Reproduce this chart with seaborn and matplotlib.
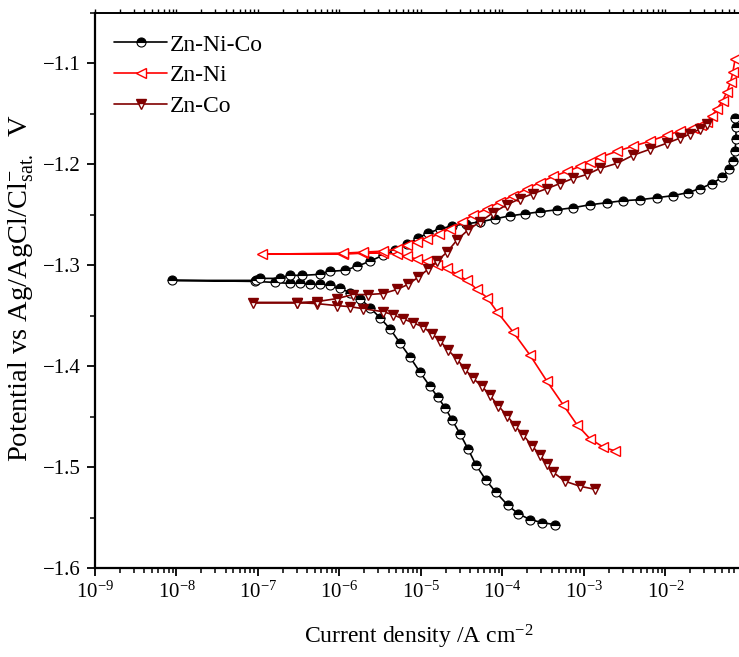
import numpy as np
import pandas as pd
import matplotlib
matplotlib.use('Agg')
import matplotlib.pyplot as plt
import matplotlib.ticker as mticker
import seaborn as sns

# Tafel curves
# current density stored as log10(i / A cm-2), potential in V vs Ag/AgCl
# each curve: cathodic branch (from its far end in to Ecorr), then anodic branch

# Zn-Ni-Co
znnico_cath_logi = [-3.356, -3.515, -3.663, -3.810, -3.933, -4.080, -4.202, -4.325, -4.423, -4.521,
                    -4.620, -4.706, -4.791, -4.890, -5.012, -5.135, -5.258, -5.380, -5.503, -5.626,
                    -5.748, -5.871, -5.994, -6.117, -6.239, -6.362, -6.485, -6.607, -6.791, -7.037, -8.055]
znnico_cath_E = [-1.557, -1.555, -1.552, -1.546, -1.538, -1.525, -1.513, -1.498, -1.482, -1.467,
                 -1.453, -1.441, -1.431, -1.420, -1.406, -1.391, -1.377, -1.363, -1.352, -1.342,
                 -1.333, -1.327, -1.323, -1.320, -1.319, -1.319, -1.318, -1.318, -1.317, -1.316, -1.315]
znnico_anod_logi = [-7.025, -6.975, -6.730, -6.607, -6.460, -6.239, -6.117, -5.933, -5.785, -5.626,
                    -5.466, -5.319, -5.172, -5.037, -4.914, -4.767, -4.620, -4.448, -4.276, -4.092,
                    -3.908, -3.724, -3.540, -3.331, -3.135, -2.926, -2.718, -2.521, -2.313, -2.104,
                    -1.908, -1.724, -1.577, -1.429, -1.307, -1.221, -1.172, -1.147, -1.135, -1.135, -1.147]
znnico_anod_E = [-1.315, -1.313, -1.313, -1.310, -1.310, -1.309, -1.306, -1.305, -1.301, -1.296,
                 -1.290, -1.285, -1.279, -1.273, -1.268, -1.264, -1.261, -1.259, -1.257, -1.254,
                 -1.251, -1.249, -1.247, -1.245, -1.243, -1.240, -1.238, -1.236, -1.235, -1.233,
                 -1.231, -1.228, -1.224, -1.219, -1.213, -1.205, -1.197, -1.187, -1.175, -1.163, -1.154]

# Zn-Ni
znni_cath_logi = [-2.620, -2.767, -2.926, -3.086, -3.258, -3.454, -3.663, -3.871, -4.067, -4.190,
                  -4.313, -4.436, -4.558, -4.681, -4.804, -4.926, -5.049, -5.172, -5.294, -5.466,
                  -5.712, -5.957, -6.951]
znni_cath_E = [-1.484, -1.480, -1.472, -1.458, -1.438, -1.415, -1.389, -1.366, -1.346, -1.332,
               -1.324, -1.315, -1.309, -1.303, -1.300, -1.296, -1.294, -1.291, -1.289, -1.288,
               -1.288, -1.289, -1.289]
znni_anod_logi = [-5.957, -5.712, -5.466, -5.294, -5.172, -5.049, -4.926, -4.785, -4.644, -4.497,
                  -4.362, -4.190, -4.031, -3.871, -3.699, -3.540, -3.380, -3.209, -3.049, -2.926,
                  -2.804, -2.595, -2.399, -2.190, -1.982, -1.822, -1.663, -1.560, -1.491, -1.430,
                  -1.368, -1.300, -1.245, -1.200, -1.172, -1.147]
znni_anod_E = [-1.288, -1.287, -1.286, -1.284, -1.280, -1.277, -1.274, -1.269, -1.264, -1.257,
               -1.250, -1.244, -1.237, -1.231, -1.224, -1.218, -1.212, -1.207, -1.202, -1.198,
               -1.193, -1.187, -1.182, -1.177, -1.171, -1.167, -1.164, -1.161, -1.158, -1.152,
               -1.145, -1.137, -1.128, -1.118, -1.108, -1.096]

# Zn-Co
znco_cath_logi = [-2.865, -3.049, -3.233, -3.380, -3.454, -3.540, -3.638, -3.748, -3.847, -3.945,
                  -4.055, -4.153, -4.252, -4.362, -4.460, -4.558, -4.669, -4.767, -4.865, -4.975,
                  -5.098, -5.221, -5.344, -5.466, -5.712, -5.871, -6.031, -6.276, -6.521, -7.061]
znco_cath_E = [-1.522, -1.519, -1.514, -1.505, -1.497, -1.488, -1.479, -1.468, -1.459, -1.449,
               -1.439, -1.429, -1.420, -1.412, -1.403, -1.393, -1.384, -1.375, -1.368, -1.361,
               -1.357, -1.353, -1.349, -1.346, -1.343, -1.341, -1.340, -1.338, -1.337, -1.337]
znco_anod_logi = [-6.521, -6.276, -6.031, -5.834, -5.650, -5.466, -5.294, -5.160, -5.037, -4.914,
                  -4.804, -4.681, -4.558, -4.423, -4.276, -4.117, -3.945, -3.785, -3.626, -3.454,
                  -3.294, -3.135, -2.963, -2.804, -2.595, -2.399, -2.190, -1.982, -1.822, -1.699,
                  -1.577, -1.491]
znco_anod_E = [-1.337, -1.336, -1.333, -1.329, -1.329, -1.328, -1.324, -1.319, -1.312, -1.304,
               -1.296, -1.287, -1.275, -1.265, -1.257, -1.248, -1.240, -1.234, -1.229, -1.224,
               -1.219, -1.214, -1.210, -1.204, -1.199, -1.191, -1.185, -1.179, -1.174, -1.170,
               -1.165, -1.160]


def make_curve(cath_logi, cath_E, anod_logi, anod_E):
    logi = np.array(cath_logi + anod_logi)
    return pd.DataFrame({'i': 10.0 ** logi, 'E': cath_E + anod_E})


df_nico = make_curve(znnico_cath_logi, znnico_cath_E, znnico_anod_logi, znnico_anod_E)
df_ni = make_curve(znni_cath_logi, znni_cath_E, znni_anod_logi, znni_anod_E)
df_co = make_curve(znco_cath_logi, znco_cath_E, znco_anod_logi, znco_anod_E)

# Style
sns.set_theme(style='ticks')
plt.rcParams['font.family'] = ['Liberation Serif', 'DejaVu Serif']
plt.rcParams['mathtext.fontset'] = 'custom'
plt.rcParams['mathtext.rm'] = 'Liberation Serif'
plt.rcParams['mathtext.it'] = 'Liberation Serif:italic'
plt.rcParams['mathtext.bf'] = 'Liberation Serif:bold'
plt.rcParams['mathtext.default'] = 'regular'
for key in ['text.color', 'axes.labelcolor', 'xtick.color', 'ytick.color', 'axes.edgecolor']:
    plt.rcParams[key] = 'black'

fig = plt.figure(figsize=(7.39, 6.57), dpi=100)
ax = fig.add_axes([95 / 739, 89 / 657, 644 / 739, 555 / 657])
ax.set_xscale('log')

sns.lineplot(data=df_nico, x='i', y='E', ax=ax, sort=False, estimator=None,
             color='black', linewidth=1.2, marker='o', markersize=6.5,
             fillstyle='top', markerfacecolor='black', markerfacecoloralt='white',
             markeredgecolor='black', markeredgewidth=0.8, label='Zn-Ni-Co')
sns.lineplot(data=df_ni, x='i', y='E', ax=ax, sort=False, estimator=None,
             color='#ff0000', linewidth=1.2, marker='<', markersize=7.5,
             markerfacecolor='white', markeredgecolor='#ff0000',
             markeredgewidth=1.0, label='Zn-Ni')
sns.lineplot(data=df_co, x='i', y='E', ax=ax, sort=False, estimator=None,
             color='#800000', linewidth=1.2, marker='v', markersize=7.5,
             fillstyle='top', markerfacecolor='#800000', markerfacecoloralt='white',
             markeredgecolor='#800000', markeredgewidth=1.0, label='Zn-Co')

# Axes
ax.set_xlim(1e-9, 10 ** -1.098)
ax.set_ylim(-1.6, -1.05)
ax.xaxis.set_major_locator(mticker.LogLocator(base=10, numticks=20))
ax.xaxis.set_minor_locator(mticker.LogLocator(base=10, subs=np.arange(2, 10), numticks=20))
ax.xaxis.set_minor_formatter(mticker.NullFormatter())
ax.yaxis.set_major_locator(mticker.MultipleLocator(0.1))
ax.yaxis.set_minor_locator(mticker.MultipleLocator(0.05))

ax.tick_params(axis='both', which='major', direction='out', length=6, width=1.3,
               labelsize=15, pad=4)
ax.tick_params(axis='both', which='minor', direction='out', length=3.5, width=1.1)

ax.spines['right'].set_visible(False)
ax.spines['left'].set_linewidth(1.6)
ax.spines['bottom'].set_linewidth(1.6)
ax.spines['top'].set_linewidth(1.4)

top = ax.secondary_xaxis('top')
top.xaxis.set_major_locator(mticker.LogLocator(base=10, numticks=20))
top.xaxis.set_minor_locator(mticker.LogLocator(base=10, subs=np.arange(2, 10), numticks=20))
top.tick_params(which='both', direction='out', length=3, width=1.0, labeltop=False)
top.spines['top'].set_visible(False)

ax.set_xlabel(r'Current density /A cm$^{-2}$', fontsize=17)
ax.set_ylabel(r'Potential vs Ag/AgCl/Cl$^{-}_{sat.}$  V', fontsize=20.5, va='center')
ax.xaxis.set_label_coords(0.503, -0.098)
ax.yaxis.set_label_coords(-0.114, 0.505)

leg = ax.legend(loc='upper left', bbox_to_anchor=(0.03, 0.962), frameon=False,
                fontsize=17, handlelength=2.25, handletextpad=0.1,
                labelspacing=0.39, borderpad=0, borderaxespad=0)

plt.savefig('out.png', dpi=100)
plt.close()
